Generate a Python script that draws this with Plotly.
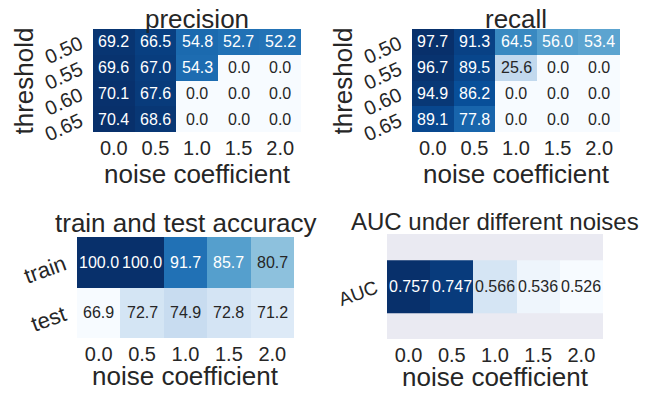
import plotly.graph_objects as go

# ---- data ----
noise_coefficients = ["0.0", "0.5", "1.0", "1.5", "2.0"]
thresholds = ["0.50", "0.55", "0.60", "0.65"]
precision = [
    [69.2, 66.5, 54.8, 52.7, 52.2],
    [69.6, 67.0, 54.3, 0.0, 0.0],
    [70.1, 67.6, 0.0, 0.0, 0.0],
    [70.4, 68.6, 0.0, 0.0, 0.0],
]
recall = [
    [97.7, 91.3, 64.5, 56.0, 53.4],
    [96.7, 89.5, 25.6, 0.0, 0.0],
    [94.9, 86.2, 0.0, 0.0, 0.0],
    [89.1, 77.8, 0.0, 0.0, 0.0],
]
acc_rows = ["train", "test"]
accuracy = [
    [100.0, 100.0, 91.7, 85.7, 80.7],
    [66.9, 72.7, 74.9, 72.8, 71.2],
]
auc_rows = ["AUC"]
auc = [[0.757, 0.747, 0.566, 0.536, 0.526]]

# ---- style ----
PAGE_OFF = 8                      # default body margin of the html page
W, H = 647 - PAGE_OFF, 395 - 2 * PAGE_OFF
FONT = "Liberation Sans, Arial, sans-serif"
DARK = "#262626"
BLUES = ["#f7fbff", "#deebf7", "#c6dbef", "#9ecae1", "#6baed6",
         "#4292c6", "#2171b5", "#08519c", "#08306b"]
COLORSCALE = [[i / (len(BLUES) - 1), c] for i, c in enumerate(BLUES)]


def hex_rgb(h):
    h = h.lstrip("#")
    return [int(h[i:i + 2], 16) / 255 for i in (0, 2, 4)]


def blues(t):
    t = min(max(t, 0.0), 1.0)
    n = len(BLUES) - 1
    i = min(int(t * n), n - 1)
    f = t * n - i
    a, b = hex_rgb(BLUES[i]), hex_rgb(BLUES[i + 1])
    return [a[k] + (b[k] - a[k]) * f for k in range(3)]


def text_color(t):
    rgb = blues(t)
    lin = [c / 12.92 if c <= 0.03928 else ((c + 0.055) / 1.055) ** 2.4 for c in rgb]
    lum = 0.2126 * lin[0] + 0.7152 * lin[1] + 0.0722 * lin[2]
    return DARK if lum > 0.408 else "#ffffff"


def px_x(p):
    return (p - PAGE_OFF) / W


def px_y(p):
    return 1 - (p - PAGE_OFF) / H


panels = [
    dict(z=precision, rows=thresholds, fmt="{:.1f}", x0=93, x1=301, y0=29, y1=132,
         title="precision", title_size=26, ty=19, xgap=42, ytitle="threshold",
         ytick_size=20, ytick_angle=-25, ystand=12, yrange=None),
    dict(z=recall, rows=thresholds, fmt="{:.1f}", x0=412, x1=620, y0=29, y1=132,
         title="recall", title_size=26, ty=19, xgap=42, ytitle="threshold",
         ytick_size=20, ytick_angle=-25, ystand=12, yrange=None),
    dict(z=accuracy, rows=acc_rows, fmt="{:.1f}", x0=77, x1=294, y0=237, y1=338,
         title="train and test accuracy", title_size=26, ty=223, xgap=38, ytitle=None,
         ytick_size=22, ytick_angle=-20, ystand=12, yrange=None),
    dict(z=auc, rows=auc_rows, fmt="{:.3f}", x0=387, x1=603, y0=234, y1=339,
         title="AUC under different noises", title_size=24, ty=221, xgap=38, ytitle=None,
         ytick_size=19, ytick_angle=-20, ystand=10, yrange=[1, -1]),
]

fig = go.Figure()
annotations = []
layout = {}
for k, p in enumerate(panels):
    sfx = "" if k == 0 else str(k + 1)
    z, rows = p["z"], p["rows"]
    flat = [v for r in z for v in r]
    zmin, zmax = min(flat), max(flat)
    fig.add_trace(go.Heatmap(
        z=z, x=noise_coefficients, y=rows,
        colorscale=COLORSCALE, zmin=zmin, zmax=zmax, showscale=False,
        xaxis="x" + sfx, yaxis="y" + sfx, hoverinfo="skip",
    ))
    layout["xaxis" + sfx] = dict(
        domain=[px_x(p["x0"]), px_x(p["x1"])], anchor="y" + sfx, type="category",
        showgrid=False, zeroline=False, ticks="", showline=False, automargin=False,
        range=[-0.5, len(noise_coefficients) - 0.5],
        tickfont=dict(family=FONT, size=20, color=DARK), ticklabelstandoff=2,
    )
    yax = dict(
        domain=[px_y(p["y1"]), px_y(p["y0"])], anchor="x" + sfx, type="category",
        showgrid=False, zeroline=False, ticks="", showline=False, automargin=False,
        tickangle=p["ytick_angle"], tickfont=dict(family=FONT, size=p["ytick_size"], color=DARK),
        ticklabelstandoff=p["ystand"],
    )
    yax["range"] = p["yrange"] if p["yrange"] is not None else [len(rows) - 0.5, -0.5]
    layout["yaxis" + sfx] = yax

    # cell annotations (category index coordinates)
    for i, r in enumerate(rows):
        for j, c in enumerate(noise_coefficients):
            v = z[i][j]
            t = (v - zmin) / (zmax - zmin) if zmax > zmin else 0
            annotations.append(dict(
                x=j, y=i, xref="x" + sfx, yref="y" + sfx, text=p["fmt"].format(v),
                showarrow=False, font=dict(family=FONT, size=16, color=text_color(t)),
            ))
    cx = px_x((p["x0"] + p["x1"]) / 2)
    # title
    annotations.append(dict(
        x=cx, y=px_y(p["ty"]), xref="paper", yref="paper",
        text=p["title"], showarrow=False, xanchor="center", yanchor="middle",
        font=dict(family=FONT, size=p["title_size"], color=DARK),
    ))
    # x-axis title
    annotations.append(dict(
        x=cx, y=px_y(p["y1"] + p["xgap"]), xref="paper", yref="paper",
        text="noise coefficient", showarrow=False, xanchor="center", yanchor="middle",
        font=dict(family=FONT, size=26, color=DARK),
    ))
    if p["ytitle"]:
        annotations.append(dict(
            x=px_x(p["x0"] - 70), y=px_y((p["y0"] + p["y1"]) / 2 + 1), xref="paper", yref="paper",
            text=p["ytitle"], showarrow=False, textangle=-90, xanchor="center", yanchor="middle",
            font=dict(family=FONT, size=26, color=DARK),
        ))

fig.update_layout(
    width=W, height=H, margin=dict(l=0, r=0, t=0, b=0),
    paper_bgcolor="white", plot_bgcolor="#EAEAF2",
    showlegend=False, annotations=annotations, **layout,
)
fig.write_html("out.html")
